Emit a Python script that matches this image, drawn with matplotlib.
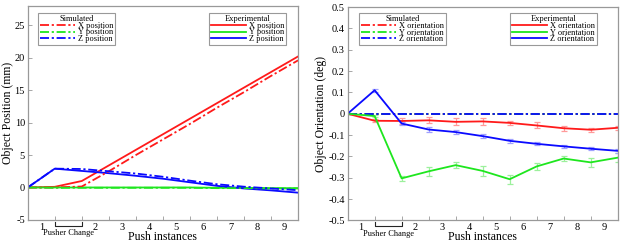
import numpy as np
import matplotlib
matplotlib.use("Agg")
import matplotlib.pyplot as plt
import matplotlib.transforms as mtransforms

plt.rcParams.update({"font.family": "Liberation Serif",
                     "axes.unicode_minus": False})

# ---------------------------------------------------------------------------
# data (push index 0..10; tick labels sit between the points)
# ---------------------------------------------------------------------------
steps = np.arange(11)
step_labels = ["1", "2", "3", "4", "5", "6", "7", "8", "9"]
label_pos = [0.5, 2.5, 3.5, 4.5, 5.5, 6.5, 7.5, 8.5, 9.5]

# position (mm)
pos_x_exp = [0, 0.1, 1.0, 3.4, 5.8, 8.2, 10.6, 13.0, 15.4, 17.8, 20.2]
pos_y_exp = [0, 0, 0, 0, 0, 0, 0, -0.05, -0.05, -0.1, -0.1]
pos_z_exp = [0, 2.9, 2.55, 2.2, 1.8, 1.35, 0.8, 0.25, -0.15, -0.45, -0.8]
pos_x_sim = [0, 0, 0.15, 2.5, 5.0, 7.4, 9.8, 12.3, 14.7, 17.2, 19.6]
pos_y_sim = [0, -0.05, -0.05, -0.05, -0.05, -0.05, -0.05, -0.1, -0.1, -0.15, -0.15]
pos_z_sim = [0, 2.9, 2.85, 2.5, 2.15, 1.65, 1.05, 0.5, 0.12, -0.15, -0.42]

# orientation (deg)
ori_x_exp = [0, -0.033, -0.034, -0.031, -0.038, -0.036, -0.043, -0.055, -0.068, -0.075, -0.066]
ori_y_exp = [0, -0.011, -0.303, -0.270, -0.241, -0.268, -0.307, -0.247, -0.210, -0.228, -0.206]
ori_z_exp = [0, 0.110, -0.046, -0.074, -0.086, -0.105, -0.127, -0.141, -0.153, -0.164, -0.174]
ori_x_err = [0, 0.006, 0.012, 0.014, 0.016, 0.018, 0.01, 0.014, 0.012, 0.01, 0.01]
ori_y_err = [0, 0.005, 0.01, 0.02, 0.015, 0.025, 0.022, 0.015, 0.01, 0.022, 0.02]
ori_z_err = [0, 0.007, 0.007, 0.012, 0.008, 0.01, 0.01, 0.007, 0.008, 0.008, 0.009]
ori_x_sim = [0] * 11
ori_y_sim = [0] * 11
ori_z_sim = [0] * 11

RED, GREEN, BLUE = "#ff1a1a", "#1ee61e", "#0a0aff"
LW = 1.3
DASH = (0, (5, 1.5, 1.2, 1.5))


def style_axes(ax, ylim, yticks, yticklabels, ylabel, ylab_x):
    ax.set_xlim(0, 10)
    ax.set_ylim(*ylim)
    ax.set_yticks(yticks, labels=yticklabels)
    ax.set_xticks(steps, labels=[""] * len(steps))
    ax.set_xticks(label_pos, labels=step_labels, minor=True)
    ax.tick_params(which="major", direction="in", length=3, width=0.6,
                   color="0.6", labelsize=7.5, pad=2)
    ax.tick_params(which="minor", length=0, labelsize=7.5, pad=2)
    for s in ax.spines.values():
        s.set_color("0.6")
        s.set_linewidth(0.9)
    ax.set_xlabel("Push instances", fontsize=8.5, va="top")
    ax.xaxis.set_label_coords(0.5, -0.052)
    ax.set_ylabel(ylabel, fontsize=8.5)
    ax.yaxis.set_label_coords(ylab_x, 0.5)

    # pusher-change bracket under the axis
    tr = mtransforms.blended_transform_factory(ax.transData, ax.transAxes)
    ax.plot([1, 1, 2, 2], [-0.008, -0.028, -0.028, -0.008], color="0.15",
            lw=0.8, transform=tr, clip_on=False)
    ax.text(1.5, -0.062, "Pusher Change", transform=tr, fontsize=6,
            ha="center", va="center")


def add_legends(ax, sim, exp, kind, sim_x, exp_x, top):
    labels = ["X " + kind, "Y " + kind, "Z " + kind]
    kw = dict(fontsize=6, title_fontsize=6, fancybox=False, framealpha=1,
              edgecolor="0.6", borderaxespad=0, handlelength=4.2,
              handletextpad=0.3, labelspacing=-0.15, borderpad=0.25)
    leg1 = ax.legend(sim, labels, title="Simulated", loc="upper left",
                     bbox_to_anchor=(sim_x, top), **kw)
    leg1.get_frame().set_linewidth(0.8)
    ax.add_artist(leg1)
    leg2 = ax.legend(exp, labels, title="Experimental", loc="upper right",
                     bbox_to_anchor=(exp_x, top), **kw)
    leg2.get_frame().set_linewidth(0.8)


fig = plt.figure(figsize=(6.23, 2.43), dpi=100)
ax1 = fig.add_axes([0.0445, 0.095, 0.434, 0.881])
ax2 = fig.add_axes([0.558, 0.093, 0.4334, 0.878])

# --- left: position --------------------------------------------------------
e1, = ax1.plot(steps, pos_x_exp, color=RED, lw=LW)
e2, = ax1.plot(steps, pos_y_exp, color=GREEN, lw=LW)
e3, = ax1.plot(steps, pos_z_exp, color=BLUE, lw=LW)
s1, = ax1.plot(steps, pos_x_sim, color=RED, lw=LW, ls=DASH)
s2, = ax1.plot(steps, pos_y_sim, color=GREEN, lw=LW, ls=DASH)
s3, = ax1.plot(steps, pos_z_sim, color=BLUE, lw=LW, ls=DASH)
style_axes(ax1, (-5, 28), [-5, 0, 5, 10, 15, 20, 25],
           ["-5", "0", "5", "10", "15", "20", "25"],
           "Object Position (mm)", -0.05)
add_legends(ax1, [s1, s2, s3], [e1, e2, e3], "position", 0.038, 0.956, 0.967)

# --- right: orientation ----------------------------------------------------
ebkw = dict(lw=LW, capsize=2.2, elinewidth=0.9, capthick=0.9)
ex = ax2.errorbar(steps, ori_x_exp, yerr=ori_x_err, color=RED, ecolor="#ff9a9a", **ebkw)
ey = ax2.errorbar(steps, ori_y_exp, yerr=ori_y_err, color=GREEN, ecolor="#9cf09c", **ebkw)
ez = ax2.errorbar(steps, ori_z_exp, yerr=ori_z_err, color=BLUE, ecolor="#a0a0ff", **ebkw)
r1, = ax2.plot(steps, ori_x_sim, color=RED, lw=LW, ls=DASH)
r2, = ax2.plot(steps, ori_y_sim, color=GREEN, lw=LW, ls=DASH)
r3, = ax2.plot(steps, ori_z_sim, color=BLUE, lw=LW, ls=DASH)
oticks = [-0.5, -0.4, -0.3, -0.2, -0.1, 0, 0.1, 0.2, 0.3, 0.4, 0.5]
style_axes(ax2, (-0.5, 0.5), oticks,
           ["0" if t == 0 else f"{t:.1f}" for t in oticks],
           "Object Orientation (deg)", -0.075)
add_legends(ax2, [r1, r2, r3], [ex.lines[0], ey.lines[0], ez.lines[0]],
            "orientation", 0.042, 0.923, 0.972)

fig.savefig("out.png", dpi=100)
